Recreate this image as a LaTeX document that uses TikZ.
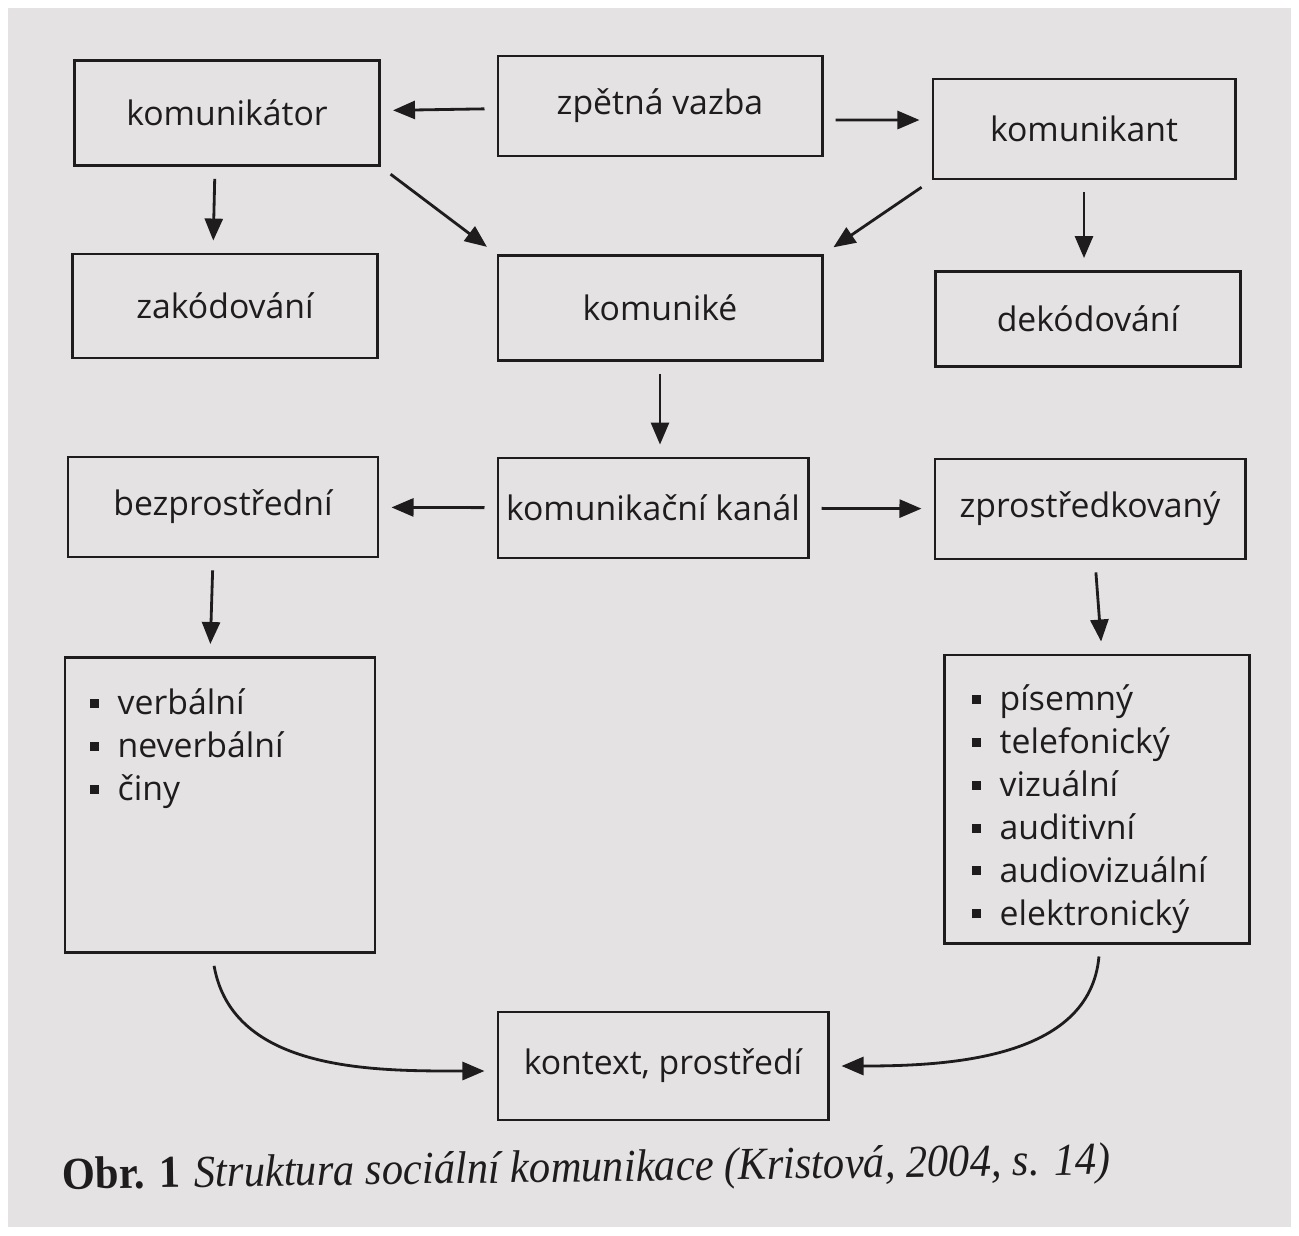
\documentclass[tikz,border=0pt]{standalone}
\usepackage{fontspec}
\setmainfont{Liberation Serif}
\newfontfamily\boxfont{Open Sans}
\newfontfamily\capfont[FakeStretch=0.93]{Liberation Serif}
\usetikzlibrary{arrows.meta}
\definecolor{paper}{RGB}{228,226,227}
\definecolor{ink}{RGB}{30,28,28}
\newcommand{\itm}[1]{\rule[0.2em]{0.9mm}{0.9mm}\hspace{1.9mm}#1}

\begin{document}
\begin{tikzpicture}[x=0.01cm,y=-0.01cm,>={Triangle[length=2.2mm,width=1.8mm]},
  box/.style={draw=ink,line width=0.8pt,minimum width=3.05cm,minimum height=1cm,inner sep=0pt,
    text=ink,font=\boxfont\fontsize{9.6}{11}\selectfont},
  arr/.style={->,draw=ink,line width=0.8pt,shorten >=1.2mm,shorten <=1.2mm},
  lst/.style={align=left,anchor=north west,inner sep=0pt,text=ink,
    font=\boxfont\fontsize{9.6}{12.2}\selectfont}]
  % page
  \fill[white] (0,0) rectangle (1299,1235);
  \fill[paper] (8,8) rectangle (1291,1227);
  \useasboundingbox (0,0) rectangle (1299,1235);
  % top row
  \node[box,minimum height=1.05cm] (km) at (227,113) {komunikátor};
  \node[box,minimum width=3.24cm] (zv) at (660,106) {zpětná vazba};
  \node[box,minimum width=3.02cm] (kt) at (1084,129) {komunikant};
  % second row
  \node[box,minimum height=1.04cm] (zk) at (225,306) {zakódování};
  \node[box,minimum width=3.24cm,minimum height=1.05cm] (ke) at (660,308) {komuniké};
  \node[box,minimum height=0.95cm] (dk) at (1088,319) {dekódování};
  % channel row
  \node[box,minimum width=3.1cm] (bp) at (223,507) {bezprostřední};
  \node[box,minimum width=3.1cm] (kk) at (653,508) {komunikační kanál};
  \node[box,minimum width=3.1cm] (zp) at (1090,509) {zprostředkovaný};
  % list boxes
  \node[box,minimum width=3.1cm,minimum height=2.95cm] (lb) at (220,805) {};
  \node[box,minimum width=3.05cm,minimum height=2.88cm] (rb) at (1097,799) {};
  \node[lst] (lv) at (89,688) {\itm{verbální}\\ \itm{neverbální}\\ \itm{činy}};
  \node[lst] (rv) at (971,684) {\itm{písemný}\\ \itm{telefonický}\\ \itm{vizuální}\\
    \itm{auditivní}\\ \itm{audiovizuální}\\ \itm{elektronický}};
  % context
  \node[box,minimum width=3.3cm,minimum height=1.08cm] (kp) at (663,1066) {kontext, prostředí};
  % arrows
  \draw[arr] (zv) -- (km);
  \draw[arr] ([yshift=-0.14cm]zv.east) -- ([yshift=0.09cm]kt.west);
  \draw[arr] ([xshift=-1.2mm]km.south) -- ([xshift=-1.2mm]zk.north);
  \draw[arr] (km.south east) -- (ke.north west);
  \draw[arr] (kt.south west) -- (ke.north east);
  \draw[arr] (kt.south) -- (dk.north -| kt.south);
  \draw[arr] (ke) -- (ke |- kk.north);
  \draw[arr] (kk) -- (bp);
  \draw[arr] (kk) -- (zp);
  \draw[arr] ([xshift=-1mm]bp.south) -- ([xshift=-1mm]lb.north);
  \draw[arr] ([xshift=0.5mm]zp.south) -- ([xshift=0.5mm]rb.north);
  \draw[arr] ([xshift=-0.8mm]lb.south) to[out=-80,in=180] ([yshift=-0.05cm]kp.west);
  \draw[arr] ([xshift=0.3mm]rb.south) to[out=-95,in=0] (kp.east);
  % caption
  \node[anchor=base west,inner sep=0pt,text=ink,rotate=0.8,font=\capfont\fontsize{13}{15}\selectfont]
    (cap) at (62,1189)
    {\textbf{Obr. 1}\hspace{1.4mm}\textit{Struktura sociální komunikace (Kristová, 2004, s. 14)}};
\end{tikzpicture}
\end{document}
